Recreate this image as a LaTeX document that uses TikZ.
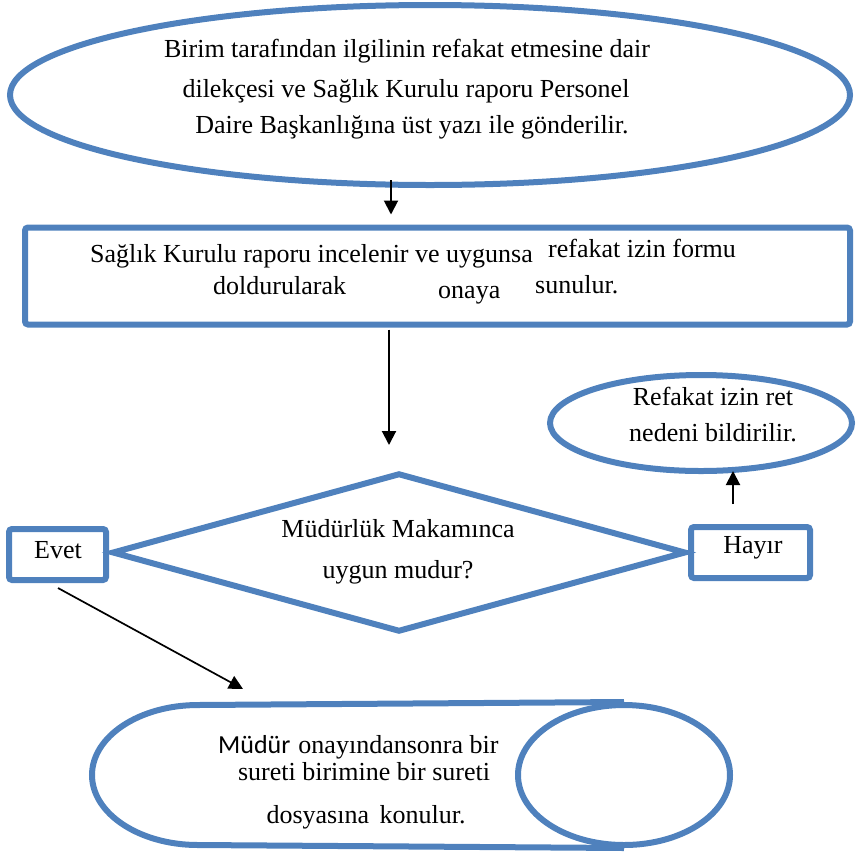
\documentclass[tikz,border=0pt]{standalone}
\usepackage{fontspec}
\setmainfont{Liberation Serif}
\newfontfamily\calibrifont{Carlito}
\usetikzlibrary{shapes.geometric,arrows.meta}
\definecolor{ofblue}{HTML}{4F81BD}
\begin{document}
\begin{tikzpicture}[x=1pt,y=-1pt,
  shapeline/.style={draw=ofblue,line width=6pt,inner sep=0pt},
  conn/.style={draw=black,line width=2pt,-{Triangle[width=14pt,length=14pt]}},
  thinconn/.style={draw=black,line width=1.7pt,-{Triangle[width=14pt,length=14pt]}},
  txt/.style={font=\fontsize{26}{30}\selectfont,inner sep=0pt,anchor=base},
  txtw/.style={font=\fontsize{26}{30}\selectfont,inner sep=0pt,anchor=base west},
]
\useasboundingbox (0,0) rectangle (856,852);
% shapes
\node[shapeline,ellipse,minimum width=840pt,minimum height=180pt] (start) at (430,95) {};
\node[shapeline,rectangle,rounded corners=3pt,minimum width=825pt,minimum height=97pt] (review) at (437.5,276) {};
\node[shapeline,diamond,minimum width=574pt,minimum height=159pt] (decision) at (399,552.5) {};
\node[shapeline,rectangle,rounded corners=3pt,minimum width=97pt,minimum height=51pt] (evet) at (57.5,554.5) {};
\node[shapeline,rectangle,rounded corners=3pt,minimum width=119pt,minimum height=51pt] (hayir) at (750.5,552.5) {};
\node[shapeline,ellipse,minimum width=302pt,minimum height=96pt] (reject) at (701,423) {};
\node[shapeline,ellipse,minimum width=212pt,minimum height=140pt] (storeend) at (624,775) {};
\draw[draw=ofblue,line width=6pt] (storeend.north) -- (198,705) arc[start angle=270,end angle=90,x radius=106,y radius=70] -- (storeend.south);
% texts
\node[txt] (t1a) at (407,57) {Birim tarafından ilgilinin refakat etmesine dair};
\node[txt] (t1b) at (406,97) {dilekçesi ve Sağlık Kurulu raporu Personel};
\node[txt] (t1c) at (412,133) {Daire Başkanlığına üst yazı ile gönderilir.};
\node[txtw] (t2a) at (90,262) {Sağlık Kurulu raporu incelenir ve uygunsa};
\node[txtw] (t2b) at (548,257) {refakat izin formu};
\node[txtw] (t2c) at (213,294) {doldurularak};
\node[txtw] (t2d) at (438,298) {onaya};
\node[txtw] (t2e) at (535,293) {sunulur.};
\node[txt] (t3a) at (398,537) {Müdürlük Makamınca};
\node[txt] (t3b) at (398,578) {uygun mudur?};
\node[txt] (tevet) at (58,558) {Evet};
\node[txt] (thayir) at (753,553) {Hayır};
\node[txt] (t4a) at (713,405) {Refakat izin ret};
\node[txt] (t4b) at (713,441) {nedeni bildirilir.};
\node[txtw] (t5a) at (218,753) {{\calibrifont Müdür}\hspace{8pt}onayındansonra bir};
\node[txt] (t5b) at (364,780) {sureti birimine bir sureti};
\node[txt] (t5c) at (366,823) {dosyasına\hspace{4pt} konulur.};
% connectors
\draw[conn] ([xshift=-39pt,yshift=8pt]start.south) -- ([xshift=-46.5pt,yshift=10pt]review.north);
\draw[conn] ([xshift=-48.5pt,yshift=-2pt]review.south) -- ([xshift=-10pt,yshift=25pt]decision.north);
\draw[thinconn] ([xshift=0.5pt,yshift=-5pt]evet.south) -- ([xshift=-381pt,yshift=13pt]storeend.north);
\draw[conn] ([xshift=-17.5pt,yshift=20pt]hayir.north) -- ([xshift=32pt,yshift=3pt]reject.south);
\end{tikzpicture}
\end{document}
